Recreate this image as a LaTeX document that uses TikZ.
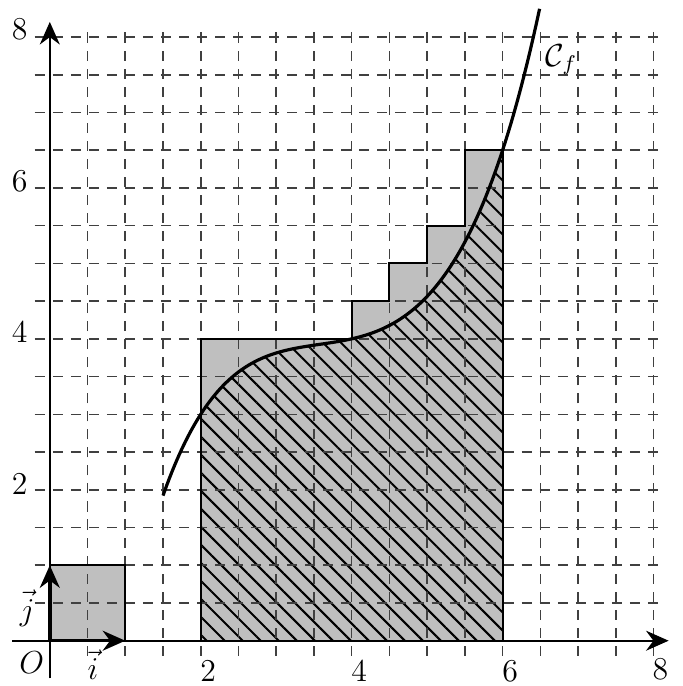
\documentclass[tikz,border=0pt]{standalone}
\usetikzlibrary{arrows.meta,patterns.meta}
\begin{document}
\begin{tikzpicture}[
  gridline/.style={black!75,line width=0.6pt,dash pattern=on 3.8pt off 3pt},
  axisline/.style={line width=0.9pt,-{Stealth[length=8.5pt,width=7.5pt]}},
  vect/.style={line width=1.3pt,-{Stealth[length=8.5pt,width=7.5pt]}},
  outline/.style={line width=0.8pt},
  curve/.style={line width=1.2pt},
  lab/.style={font=\large,inner sep=0pt},
  declare function={g(\t)=4+\t*(0.2253+\t*(0.1875+\t*(0.1455+\t*\t*0.00423)));}
]
\useasboundingbox (-0.66,-0.6) rectangle (8.39,8.49);
% gray fills
\fill[lightgray] (0,0) rectangle (1,1);
\fill[lightgray] (2,0) -- (2,4) -- (4,4) -- (4,4.5) -- (4.5,4.5) -- (4.5,5) -- (5,5) -- (5,5.5) -- (5.5,5.5) -- (5.5,6.5) -- (6,6.5) -- (6,0) -- cycle;
% hatching under the curve
\fill[pattern={Lines[angle=-45,distance=4.8pt,line width=0.75pt]}] (2,0) -- plot[domain=2:6,samples=80] (\x,{g(\x-4)}) -- (6,0) -- cycle;
% grid
\draw[gridline] (-0.2,-0.2) grid[step=0.5] (8.1,8.1);
% outlines
\draw[outline] (0,0) rectangle (1,1);
\draw[outline] (2,0) -- (2,4) -- (4,4) -- (4,4.5) -- (4.5,4.5) -- (4.5,5) -- (5,5) -- (5,5.5) -- (5.5,5.5) -- (5.5,6.5) -- (6,6.5) -- (6,0);
% curve
\draw[curve] plot[domain=1.5:6.49,samples=120] (\x,{g(\x-4)});
% axes
\draw[axisline] (-0.5,0) -- (8.2,0);
\draw[axisline] (0,-0.5) -- (0,8.2);
% unit vectors
\draw[vect] (0,0) -- (1,0);
\draw[vect] (0,0) -- (0,1);
% labels
\node[lab] (o) at (-0.24,-0.29) {$O$};
\node[lab] (i) at (0.57,-0.32) {$\vec{i}$};
\node[lab] (j) at (-0.3,0.43) {$\vec{j}$};
\node[lab] (cf) at (6.78,7.7) {$\mathcal{C}_f$};
\node[lab] (x2) at (2.1,-0.4) {2};
\node[lab] (x4) at (4.1,-0.4) {4};
\node[lab] (x6) at (6.1,-0.4) {6};
\node[lab] (x8) at (8.09,-0.38) {8};
\node[lab] (y2) at (-0.4,2.08) {2};
\node[lab] (y4) at (-0.4,4.09) {4};
\node[lab] (y6) at (-0.4,6.09) {6};
\node[lab] (y8) at (-0.4,8.1) {8};
\end{tikzpicture}
\end{document}
